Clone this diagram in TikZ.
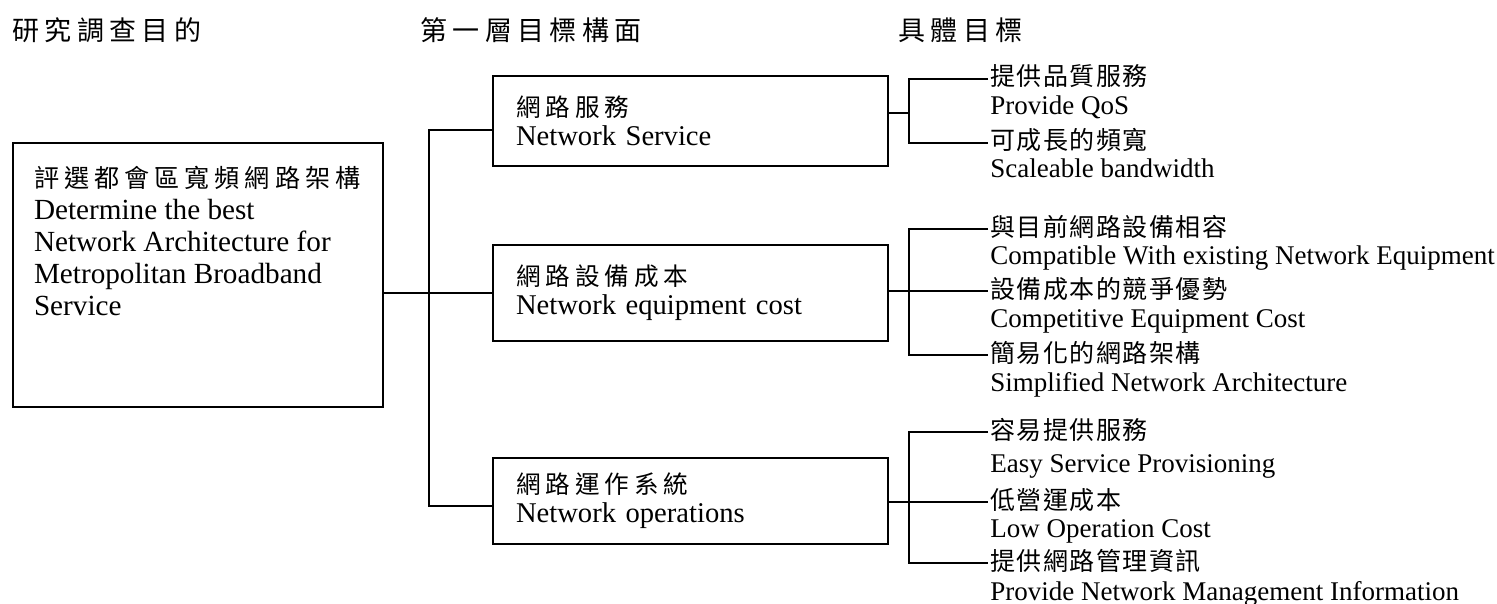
\documentclass[tikz,border=0pt]{standalone}
\usepackage{fontspec}
\setmainfont{Liberation Serif}
\newfontfamily\cjk[Scale=0.86,LetterSpace=20]{Noto Sans CJK TC}
\newfontfamily\cjkt[Scale=0.926,LetterSpace=6]{Noto Sans CJK TC}

\tikzset{
	box/.style={draw, line width=1pt, anchor=west, align=left, inner xsep=11.5pt,
		text width=174.5pt, font=\fontsize{14.3}{14.5}\selectfont},
	tgt/.style={anchor=west, inner xsep=1pt, inner ysep=0pt, text height=10pt, text depth=3pt,
		font=\fontsize{13.5}{16}\selectfont},
	head/.style={anchor=west, inner sep=0pt, font=\fontsize{15.7}{18}\selectfont\cjk},
	conn/.style={line width=1pt},
}

\begin{document}
\begin{tikzpicture}[x=0.5pt, y=-0.5pt, font=\fontsize{14.6}{16}\selectfont]
	\useasboundingbox (0,0) rectangle (1497,604);
	% column titles
	\node[head] (h1) at (12,30) {研究調查目的};
	\node[head] (h2) at (420,30) {第一層目標構面};
	\node[head] (h3) at (898,30) {具體目標};
	% goal
	\node[draw, line width=1pt, anchor=north west, inner xsep=10.5pt, inner ysep=11.5pt] (goal) at (12,142)
		{\parbox[t][109pt][t]{164pt}{{\cjk 評選都會區寬頻網路架構}\\Determine the best\\Network Architecture for\\Metropolitan Broadband\\Service}};
	% first level
	\node[box, minimum height=45pt] (svc) at (492,121) {{\cjk 網路服務}\\Network Service};
	\node[box, minimum height=48pt] (cost) at (492,293) {{\cjk 網路設備成本}\\Network equipment cost};
	\node[box, minimum height=43pt] (ops) at (492,501) {{\cjk 網路運作系統}\\Network operations};
	% targets
	\node[tgt] (qos) at (988,79) {\cjkt 提供品質服務};
	\node[tgt] (qosE) at (988,108) {Provide QoS};
	\node[tgt] (bw) at (988,143) {\cjkt 可成長的頻寬};
	\node[tgt] (bwE) at (988,171) {Scaleable bandwidth};
	\node[tgt] (compat) at (988,229) {\cjkt 與目前網路設備相容};
	\node[tgt] (compatE) at (988,257) {Compatible With existing Network Equipment};
	\node[tgt] (price) at (988,291) {\cjkt 設備成本的競爭優勢};
	\node[tgt] (priceE) at (988,320) {Competitive Equipment Cost};
	\node[tgt] (simple) at (988,355) {\cjkt 簡易化的網路架構};
	\node[tgt] (simpleE) at (988,384) {Simplified Network Architecture};
	\node[tgt] (easy) at (988,432) {\cjkt 容易提供服務};
	\node[tgt] (easyE) at (988,465) {Easy Service Provisioning};
	\node[tgt] (lowop) at (988,502) {\cjkt 低營運成本};
	\node[tgt] (lowopE) at (988,530) {Low Operation Cost};
	\node[tgt] (mgmt) at (988,563) {\cjkt 提供網路管理資訊};
	\node[tgt] (mgmtE) at (988,593) {Provide Network Management Information};
	% trunk on the left
	\coordinate (t1) at (429,130);
	\coordinate (t3) at (429,506);
	\draw[conn] (svc.west |- t1) -- (t1) -- (t3) -- (ops.west |- t3);
	\draw[conn] (goal.east |- cost.west) -- (cost.west);
	% brackets on the right
	\coordinate (b1) at (909,113);
	\draw[conn] (svc.east |- b1) -- (b1);
	\draw[conn] (qos.west) -- (qos.west -| b1) -- (bw.west -| b1) -- (bw.west);
	\draw[conn] (compat.west) -- (compat.west -| b1) -- (simple.west -| b1) -- (simple.west);
	\draw[conn] (cost.east |- price.west) -- (price.west);
	\draw[conn] (easy.west) -- (easy.west -| b1) -- (mgmt.west -| b1) -- (mgmt.west);
	\draw[conn] (ops.east |- lowop.west) -- (lowop.west);
\end{tikzpicture}
\end{document}
